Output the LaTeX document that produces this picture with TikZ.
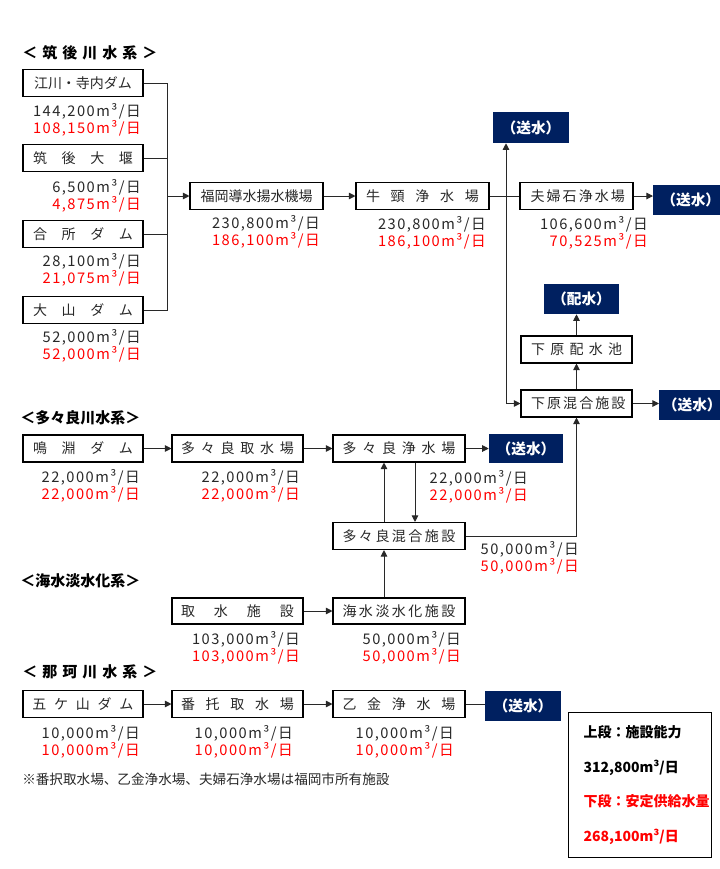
\documentclass[tikz,border=0pt]{standalone}
\usepackage{fontspec}
\setmainfont{Noto Sans CJK JP}
\newfontfamily\numfont{Noto Sans CJK JP}[LetterSpace=10]
\usetikzlibrary{positioning,calc,arrows.meta}
\newlength{\upx}
\setlength{\upx}{0.75pt}
\definecolor{navy}{RGB}{0,32,96}
\definecolor{ink}{RGB}{40,40,40}
\tikzset{%
  facility/.style={draw=black, rectangle, line width=0.8pt, inner sep=0pt,
    minimum width=#1\upx, minimum height=27\upx,
    font=\fontsize{10.5}{12}\selectfont, text=ink},% plant / dam box
  facility/.default=120,
  outlet/.style={rectangle, fill=navy, text=white, inner sep=0pt,
    minimum width=#1\upx, minimum height=30\upx,
    font=\fontsize{11}{12}\selectfont\bfseries},% delivery point
  outlet/.default=75,
  amount/.style={anchor=north east, align=right, inner sep=0pt,
    font=\fontsize{11}{12.75}\selectfont\numfont, text=ink},% capacity under box
  system/.style={anchor=west, inner sep=0pt,
    font=\fontsize{11.25}{12}\selectfont\bfseries},% river system heading
  legend/.style={draw=black, line width=0.8pt, anchor=north west, align=left,
    text width=113\upx, inner xsep=15\upx, inner ysep=0pt, minimum height=145\upx,
    font=\fontsize{10.5}{26}\selectfont\bfseries},
  pipe/.style={line width=0.75pt, draw=ink},
  feed/.style={pipe, -{Triangle[length=5pt,width=5pt]}}
}
\newcommand*{\spread}[2]{\makebox[#1\upx][s]{#2}}
\newcommand*{\wvol}[2]{#1m³/日\\\textcolor{red}{#2m³/日}}

\begin{document}
\begin{tikzpicture}[x=\upx, y=-\upx]
\useasboundingbox (0,0) rectangle (720,869);

% chikugo river
\node[system] (t1) at (22,53) {\spread{135}{＜ 筑 後 川 水 系 ＞}};
\node[facility] (egawa) at (83,83) {江川・寺内ダム};
\node[facility] (chikugo) at (83,158) {\spread{100}{筑 後 大 堰}};
\node[facility] (gousho) at (83,234) {\spread{100}{合 所 ダ ム}};
\node[facility] (ooyama) at (83,310) {\spread{100}{大 山 ダ ム}};
\node[facility=133] (fukuoka) at (256.5,196) {福岡導水揚水機場};
\node[facility=133] (ushikubi) at (422.5,196) {\spread{113}{牛 頸 浄 水 場}};
\node[facility=113] (meotoishi) at (576.5,196) {\spread{92}{夫 婦 石 浄 水 場}};
\node[facility=111] (shimotank) at (576.5,349.5) {\spread{91}{下 原 配 水 池}};
\node[facility=111] (shimomix) at (576.5,403.5) {\spread{91}{下 原 混 合 施 設}};
\node[outlet=76, minimum height=31\upx] (soui1) at (531,127.5) {（送水）};
\node[outlet, anchor=west] (soui2) at (653,200) {（送水）};
\node[outlet] (haisui) at (581.5,299) {（配水）};
\node[outlet=66, anchor=west] (soui3) at (659,405) {（送水）};

\node[amount] (q1) at (141,103) {\wvol{144,200}{108,150}};
\node[amount] (q2) at (141,179) {\wvol{6,500}{4,875}};
\node[amount] (q3) at (141,253) {\wvol{28,100}{21,075}};
\node[amount] (q4) at (141,329) {\wvol{52,000}{52,000}};
\node[amount] (q5) at (320,215) {\wvol{230,800}{186,100}};
\node[amount] (q6) at (486,216) {\wvol{230,800}{186,100}};
\node[amount] (q7) at (648,216) {\wvol{106,600}{70,525}};

\coordinate (bus) at (167,196);
\coordinate (split) at (506,196);
\draw[pipe] (egawa) -| (bus);
\draw[pipe] (chikugo) -| (bus);
\draw[pipe] (gousho) -| (bus);
\draw[pipe] (ooyama) -| (bus);
\draw[feed] (bus) -- (fukuoka);
\draw[feed] (fukuoka) -- (ushikubi);
\draw[pipe] (ushikubi) -- (meotoishi);
\draw[feed] (meotoishi) -- (meotoishi -| soui2.west);
\draw[feed] (split) -- (split |- soui1.south);
\draw[feed] (split) |- (shimomix);
\draw[feed] (shimomix) -- (shimotank);
\draw[feed] (shimotank) -- (shimotank |- haisui.south);
\draw[feed] (shimomix) -- (shimomix -| soui3.west);

% tatara river
\node[system] (t2) at (20,418) {＜多々良川水系＞};
\node[facility] (narufuchi) at (83,448.5) {\spread{100}{鳴 淵 ダ ム}};
\node[facility=131] (tintake) at (237.5,448.5) {\spread{113}{多 々 良 取 水 場}};
\node[facility=132] (tplant) at (399,448.5) {\spread{113}{多 々 良 浄 水 場}};
\node[facility=132] (tmix) at (399,536) {\spread{113}{多 々 良 混 合 施 設}};
\node[outlet=74, minimum height=29\upx] (soui4) at (526,448.5) {（送水）};

\node[amount] (q8) at (140,469) {\wvol{22,000}{22,000}};
\node[amount] (q9) at (300,469) {\wvol{22,000}{22,000}};
\node[amount] (q10) at (528,470) {\wvol{22,000}{22,000}};
\node[amount] (q11) at (579,541) {\wvol{50,000}{50,000}};

\draw[feed] (narufuchi) -- (tintake);
\draw[feed] (tintake) -- (tplant);
\draw[feed] (tplant) -- (soui4);
\draw[feed] ($(tplant.south)+(16,0)$) -- ($(tmix.north)+(16,0)$);
\draw[feed] ($(tmix.north)+(-15,0)$) -- ($(tplant.south)+(-15,0)$);
\draw[feed] (tmix) -| (shimomix);

% desalination
\node[system] (t3) at (20,581) {＜海水淡水化系＞};
\node[facility=131, minimum height=26\upx] (intake) at (237.5,611) {\spread{113}{取 水 施 設}};
\node[facility=132, minimum height=26\upx] (desal) at (399,611) {\spread{113}{海 水 淡 水 化 施 設}};

\node[amount] (q12) at (300,631) {\wvol{103,000}{103,000}};
\node[amount] (q13) at (461,631) {\wvol{50,000}{50,000}};

\draw[feed] (intake) -- (desal);
\draw[feed] ($(desal.north)+(-15,0)$) -- ($(tmix.south)+(-15,0)$);

% naka river
\node[system] (t4) at (22,672) {\spread{135}{＜ 那 珂 川 水 系 ＞}};
\node[facility] (gokayama) at (83,704) {\spread{101}{五 ケ 山 ダ ム}};
\node[facility=131] (bantaku) at (237.5,704) {\spread{113}{番 托 取 水 場}};
\node[facility=132] (otogana) at (399,704) {\spread{113}{乙 金 浄 水 場}};
\node[outlet=76] (soui5) at (523,706) {（送水）};

\node[amount] (q14) at (140,725) {\wvol{10,000}{10,000}};
\node[amount] (q15) at (293,725) {\wvol{10,000}{10,000}};
\node[amount] (q16) at (454,725) {\wvol{10,000}{10,000}};

\draw[feed] (gokayama) -- (bantaku);
\draw[feed] (bantaku) -- (otogana);
\draw[pipe] (otogana) -- (otogana -| soui5.west);

\node[anchor=west, inner sep=0pt, font=\fontsize{10.2}{12}\selectfont, text=ink] (note) at (22,779)
  {※番択取水場、乙金浄水場、夫婦石浄水場は福岡市所有施設};

\node[legend] (key) at (568,712) {上段：施設能力\\312,800m³/日\\\textcolor{red}{下段：安定供給水量}\\\textcolor{red}{268,100m³/日}};
\end{tikzpicture}
\end{document}
